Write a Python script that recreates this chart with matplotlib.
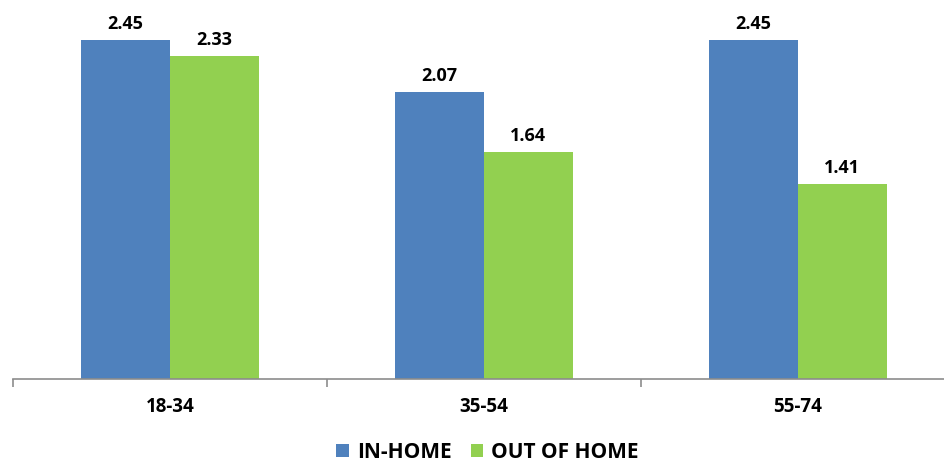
import matplotlib.pyplot as plt
import numpy as np

# Age groups and average counts per setting
age_groups = ["18-34", "35-54", "55-74"]
in_home = [2.45, 2.07, 2.45]
out_of_home = [2.33, 1.64, 1.41]

blue = "#4F81BD"
green = "#92D050"
plt.rcParams['font.family'] = ['Open Sans', 'DejaVu Sans']

fig = plt.figure(figsize=(9.45, 4.65), dpi=100)
ax = fig.add_axes([13 / 945, 86 / 465, 942 / 945, 360 / 465])

x = np.arange(len(age_groups))
width = 0.283

bars1 = ax.bar(x - width / 2, in_home, width, color=blue, label="IN-HOME")
bars2 = ax.bar(x + width / 2, out_of_home, width, color=green, label="OUT OF HOME")

# value labels above each bar
for bars, vals in ((bars1, in_home), (bars2, out_of_home)):
    for b, v in zip(bars, vals):
        ax.text(b.get_x() + b.get_width() / 2, v + 0.05, f"{v:.2f}",
                ha="center", va="bottom", fontsize=13, fontweight="bold")

ax.set_xlim(-0.5, 2.5)
ax.set_ylim(0, 2.6)

# only the bottom axis line, with ticks between categories
for side in ("top", "right", "left"):
    ax.spines[side].set_visible(False)
ax.spines["bottom"].set_color("#8C8C8C")
ax.spines["bottom"].set_linewidth(1.2)
ax.set_yticks([])
ax.set_xticks(x)
ax.set_xticklabels(age_groups, fontsize=13.5, fontweight="bold")
ax.tick_params(axis="x", which="major", length=0, pad=13)
ax.set_xticks([-0.5, 0.5, 1.5, 2.5], minor=True)
ax.tick_params(axis="x", which="minor", length=6, width=1.2, color="#8C8C8C")

leg = fig.legend(handles=[bars1, bars2], loc="center", bbox_to_anchor=(0.516, 0.027),
                 ncol=2, frameon=False, prop={"size": 15, "weight": "bold"},
                 handlelength=0.6, handleheight=0.6, handletextpad=0.4,
                 columnspacing=0.9)

fig.savefig("out.png", dpi=100)
